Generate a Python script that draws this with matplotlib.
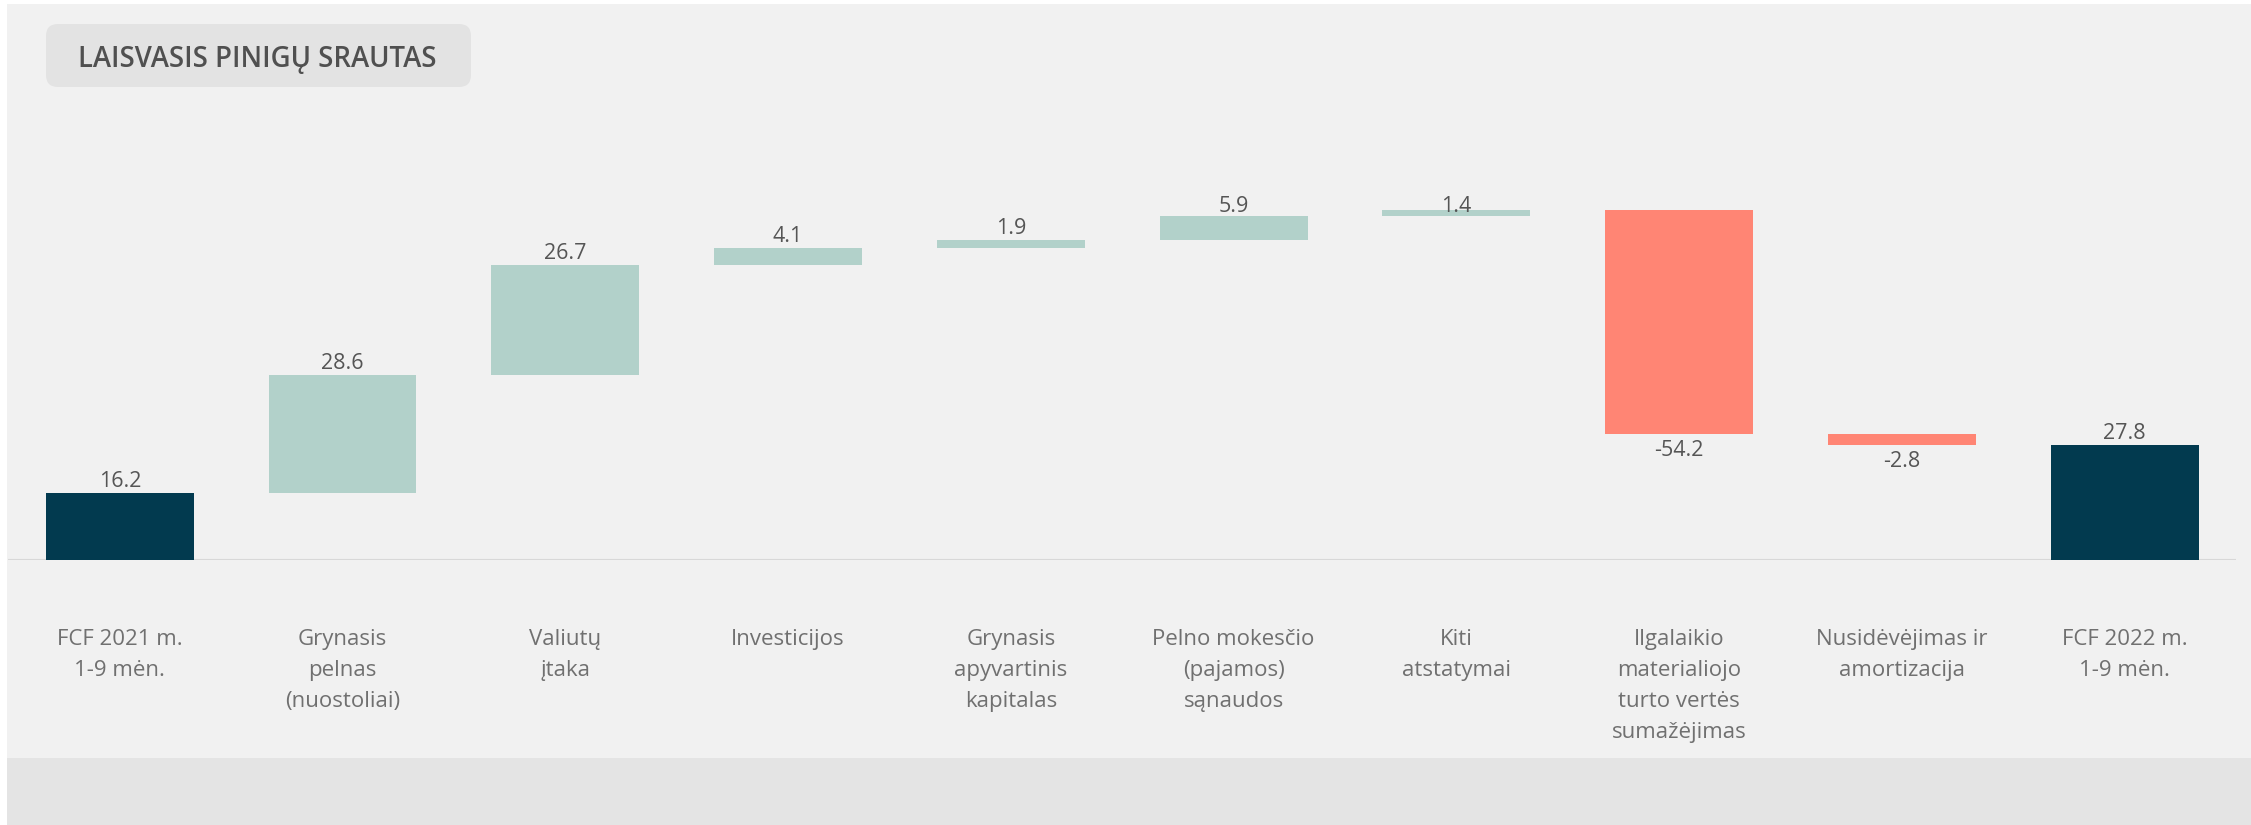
import matplotlib
matplotlib.use('Agg')
import matplotlib.pyplot as plt
from matplotlib.patches import Rectangle, FancyBboxPatch
import numpy as np

plt.rcParams['font.family'] = ['Open Sans', 'DejaVu Sans']

# ── data ────────────────────────────────────────────────────────────────────
categories = ['FCF 2021 m.\n1-9 mėn.', 'Grynasis\npelnas\n(nuostoliai)', 'Valiutų\nįtaka',
              'Investicijos', 'Grynasis\napyvartinis\nkapitalas',
              'Pelno mokesčio\n(pajamos)\nsąnaudos', 'Kiti\natstatymai',
              'Ilgalaikio\nmaterialiojo\nturto vertės\nsumažėjimas',
              'Nusidėvėjimas ir\namortizacija', 'FCF 2022 m.\n1-9 mėn.']
values = [16.2, 28.6, 26.7, 4.1, 1.9, 5.9, 1.4, -54.2, -2.8, 27.8]
is_total = [True, False, False, False, False, False, False, False, False, True]

C_TOTAL = '#023a4f'
C_UP = '#b2d1ca'
C_DOWN = '#ff8574'
BG = '#f1f1f1'
BAND = '#e4e4e4'

# ── waterfall geometry ──────────────────────────────────────────────────────
bottoms, heights = [], []
run = 0.0
for v, t in zip(values, is_total):
    if t:
        bottoms.append(0.0)
        heights.append(v)
        run = v
    else:
        if v >= 0:
            bottoms.append(run)
        else:
            bottoms.append(run + v)
        heights.append(abs(v))
        run += v
colors = [C_TOTAL if t else (C_UP if v >= 0 else C_DOWN) for v, t in zip(values, is_total)]

W, H = 2251, 825
fig = plt.figure(figsize=(W / 100, H / 100), dpi=100, facecolor='white')

# panel background + bottom band (pixel coords)
fig.patches.append(Rectangle((7, 67), W - 7, 754, transform=None, facecolor=BG, edgecolor='none', zorder=-2))
fig.patches.append(Rectangle((7, 0), W - 7, 67, transform=None, facecolor=BAND, edgecolor='none', zorder=-2))

# title box
fig.patches.append(FancyBboxPatch((56, 748), 405, 43, boxstyle='round,pad=10,rounding_size=12',
                                  transform=None, facecolor='#e3e3e3', edgecolor='none', zorder=-1))
fig.text(78 / W, 766 / H, 'LAISVASIS PINIGŲ SRAUTAS', fontsize=19.8, fontweight='semibold',
         color='#505050', ha='left', va='center')

ax_left, ax_right = 8.4 / W, 2236 / W
ax_bottom, ax_top = 265 / H, 630 / H
ax = fig.add_axes([ax_left, ax_bottom, ax_right - ax_left, ax_top - ax_bottom])
ax.set_facecolor('none')
YMAX = 88.4
ax.set_xlim(-0.5, len(values) - 0.5)
ax.set_ylim(0, YMAX)

x = np.arange(len(values))
ax.bar(x, heights, bottom=bottoms, width=0.664, color=colors, edgecolor='none', zorder=2)
ax.axhline(0, color='#d8d8d8', lw=1.5, zorder=1)

# value labels (kept inside the plot top, as in the original)
ppu = (ax_top - ax_bottom) * H / YMAX
cap = YMAX - 17 / ppu
for i, (b, h, v) in enumerate(zip(bottoms, heights, values)):
    if v >= 0:
        y = min(b + h + 6 / ppu, cap)
        ax.text(i, y, f'{v:.1f}', ha='center', va='baseline', fontsize=15.5, color='#555555', zorder=3)
    else:
        ax.text(i, b - 6 / ppu, f'{v:.1f}', ha='center', va='top', fontsize=15.5, color='#555555', zorder=3)

ax.set_xticks(x)
ax.set_xticklabels(categories, fontsize=16, color='#707070', linespacing=1.62)
ax.tick_params(axis='x', length=0, pad=50)
ax.set_yticks([])
for s in ax.spines.values():
    s.set_visible(False)

fig.savefig('out.png', dpi=100, facecolor=fig.get_facecolor())
